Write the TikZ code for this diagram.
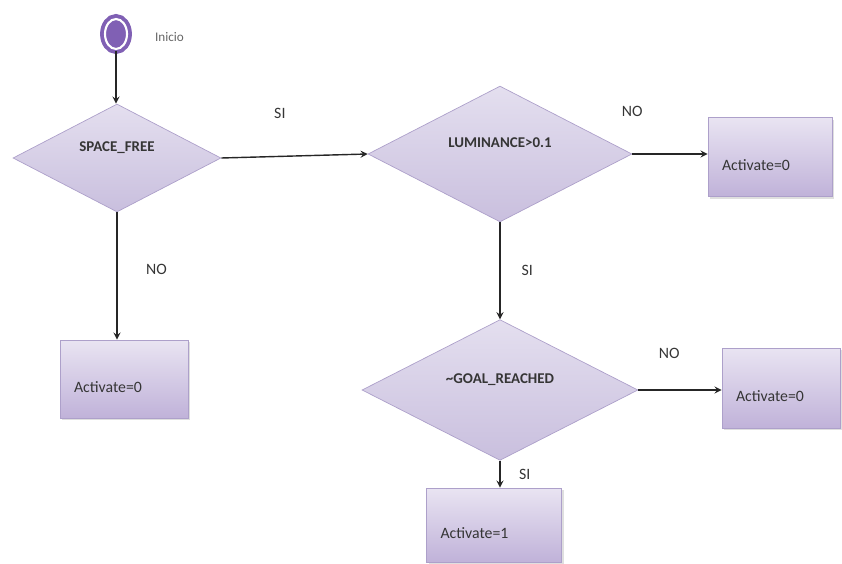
\documentclass[tikz,border=0pt]{standalone}
\usepackage{fontspec}
\setmainfont{Carlito}
\usepackage{xcolor}
\usetikzlibrary{positioning, shapes.geometric, shadows, arrows}

\definecolor{startpurple}{HTML}{8060B4}
\definecolor{lilactop}{HTML}{E4DFEF}
\definecolor{lilacbot}{HTML}{C9BFDE}
\definecolor{lilacedge}{HTML}{ADA0CA}
\definecolor{boxtop}{HTML}{E9E4F2}
\definecolor{boxbot}{HTML}{C0B2D9}
\definecolor{inktext}{HTML}{353535}

\begin{document}
\begin{tikzpicture}[x=0.02cm, y=-0.02cm,
    decision/.style={diamond, draw=lilacedge, top color=lilactop, bottom color=lilacbot,
        inner sep=0pt, text depth=13pt, font=\fontsize{8.5}{10}\selectfont\bfseries, text=inktext},
    actbox/.style={rectangle, draw=lilacedge, top color=boxtop, bottom color=boxbot,
        drop shadow={shadow xshift=1.2pt, shadow yshift=-1.2pt, fill=black!25},
        inner xsep=0.28cm, inner ysep=0pt, align=left, text height=15pt, text depth=0pt,
        font=\fontsize{9}{11}\selectfont, text=inktext},
    lbl/.style={font=\fontsize{9}{11}\selectfont, text=inktext},
    arr/.style={-stealth, thick, black!85}]
    \useasboundingbox (0,0) rectangle (842,564);

    \node[ellipse, fill=startpurple, draw=startpurple, double=white, double distance=1.2pt,
        line width=2.2pt, minimum width=0.44cm, minimum height=0.6cm,
        label={[label distance=0.4cm, yshift=-2pt, font=\fontsize{7.5}{9}\selectfont, text=black!60]0:Inicio}] (start) at (116,34) {};

    \node[decision, minimum width=4.16cm, minimum height=2.08cm] (spacefree) at (117,158) {SPACE\_FREE};
    \node[decision, minimum width=5.28cm, minimum height=2.24cm] (lumin) at (500,154) {LUMINANCE>0.1};
    \node[decision, minimum width=5.52cm, minimum height=2.16cm] (goal) at (500,390) {\textasciitilde GOAL\_REACHED};

    \node[actbox, text width=1.92cm, minimum height=1.58cm] (actlum) at (770,157) {Activate=0};
    \node[actbox, text width=2.0cm, minimum height=1.56cm] (actspace) at (124,379) {Activate=0};
    \node[actbox, text width=1.8cm, minimum height=1.6cm] (actgoal) at (781,388) {Activate=0};
    \node[actbox, text width=2.14cm, minimum height=1.48cm] (actone) at (494,525) {Activate=1};

    \draw[arr] (start) -- (start |- spacefree.north);
    \draw[arr] (spacefree.east) -- node[lbl, pos=0.4, above=0.62cm] {SI} (lumin.west);
    \draw[arr] (spacefree.south) -- node[lbl, pos=0.45, right=0.45cm] {NO} (spacefree.south |- actspace.north);
    \draw[arr] (lumin.east) -- node[lbl, pos=0, above=0.62cm] {NO} (lumin.east -| actlum.west);
    \draw[arr] (lumin.south) -- node[lbl, right=0.3cm] {SI} (goal.north);
    \draw[arr] (goal.east) -- node[lbl, pos=0.37, above=0.5cm] {NO} (goal.east -| actgoal.west);
    \draw[arr] (goal.south) -- node[lbl, right=0.25cm] {SI} (goal.south |- actone.north);
\end{tikzpicture}
\end{document}
